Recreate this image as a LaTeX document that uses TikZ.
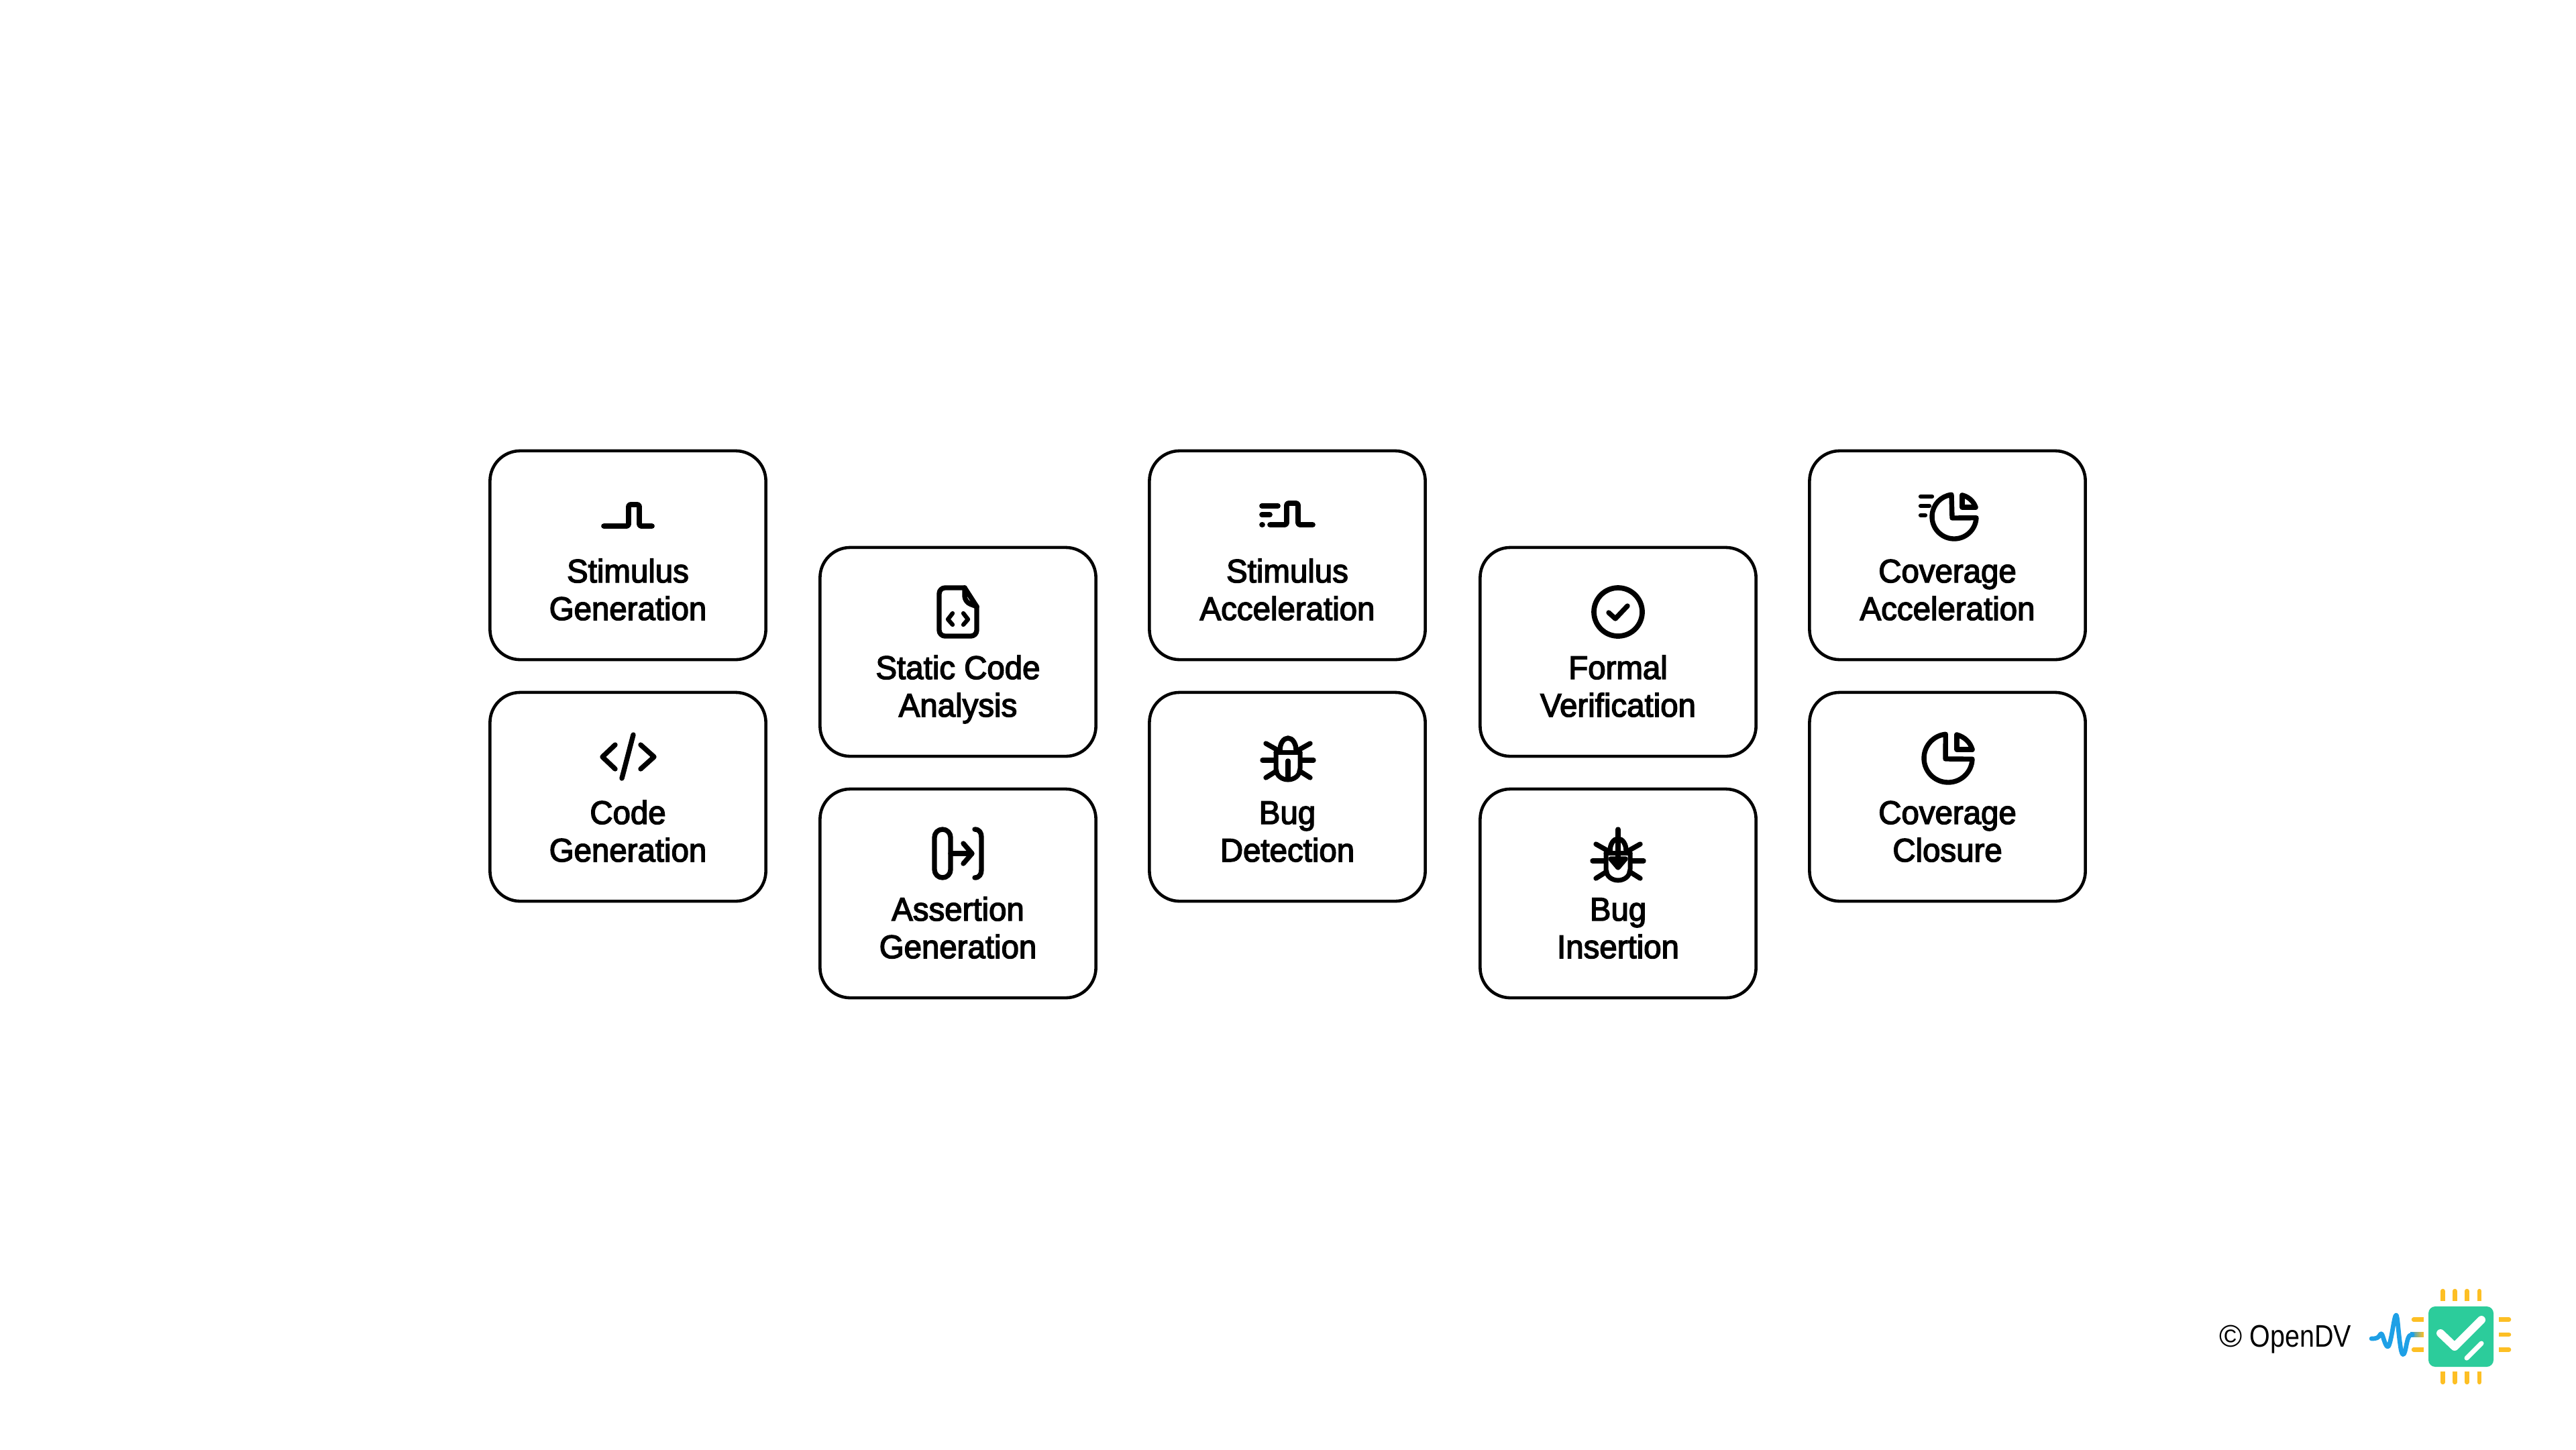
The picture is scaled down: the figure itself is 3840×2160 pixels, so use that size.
\documentclass[tikz,border=0pt]{standalone}
\usepackage{fontspec}
\setmainfont[FakeBold=3,FakeStretch=0.97]{Liberation Sans}
\newfontfamily\logofont[FakeStretch=0.85]{Liberation Sans}
\newfontfamily\logosym{Liberation Sans}
\definecolor{chipgreen}{HTML}{2CCC9B}
\definecolor{pinyellow}{HTML}{FDBF24}
\definecolor{waveblue}{HTML}{1EA0E6}
\tikzset{
  cardbox/.style={draw=black,fill=white,line width=1.3pt,rounded corners=0.45cm,
    minimum width=4.11cm,minimum height=3.11cm,inner sep=0pt,outer sep=0pt},
  cardtext/.style={anchor=base,align=center,inner sep=0pt,outer sep=0pt,text=black,
    font=\fontsize{13.9pt}{15.93pt}\selectfont},
  glyph/.style={draw=black,line width=2.1pt,line cap=round,line join=round},
  thinglyph/.style={glyph,line width=1.8pt},
  pinround/.style={draw=pinyellow,line width=1.85pt,line cap=round},
  pinflat/.style={draw=pinyellow,line width=1.85pt,line cap=butt},
}
\newcommand{\card}[4]{%
  \node[cardbox] (#1) at (#2,#3+155.5) {};
  \node[cardtext] (#1t) at (#2,#3+252) {#4};
}
\newcommand{\bug}[2]{% centre x, top y of the bug
  \begin{scope}[shift={(#1,#2)}]
    \draw[glyph] (-12,21) arc[start angle=180,end angle=360,x radius=12,y radius=18] ;
    \draw[glyph,line width=2pt] (-18,24) -- (18,24);
    \draw[glyph,line width=2pt] (-18,24) -- (-18,48) .. controls (-18,60) and (-8,65) .. (0,65)
       .. controls (8,65) and (18,60) .. (18,48) -- (18,24);
    \draw[glyph] (-38,36) -- (-20,36) (20,36) -- (38,36);
    \draw[glyph] (-33,11) -- (-17,20) (33,11) -- (17,20);
    \draw[glyph] (-33,62) -- (-17,52) (33,62) -- (17,52);
  \end{scope}
}
\begin{document}
\begin{tikzpicture}[x=0.01cm,y=-0.01cm]
\useasboundingbox[fill=white] (0,0) rectangle (3840,2160);

\card{c1}{936}{672}{Stimulus\\Generation}
\card{c2}{936}{1032}{Code\\Generation}
\card{c3}{1428}{816}{Static Code\\Analysis}
\card{c4}{1428}{1176}{Assertion\\Generation}
\card{c5}{1919}{672}{Stimulus\\Acceleration}
\card{c6}{1919}{1032}{Bug\\Detection}
\card{c7}{2412}{816}{Formal\\Verification}
\card{c8}{2412}{1176}{Bug\\Insertion}
\card{c9}{2903}{672}{Coverage\\Acceleration}
\card{c10}{2903}{1032}{Coverage\\Closure}

% pulse
\draw[glyph,rounded corners=0.8pt,line width=2.2pt] (900,784) -- (937,784) -- (937,752) -- (953,752) -- (953,784) -- (972,784);
% code
\draw[glyph] (917,1110) -- (898,1128) -- (917,1146);
\draw[glyph] (955,1110) -- (975,1128) -- (955,1146);
\draw[glyph] (944,1095) -- (927,1160);
% file
\draw[glyph,rounded corners=2.5pt] (1438,876) -- (1400,876) -- (1400,948) -- (1456,948) -- (1456,904);
\draw[glyph] (1438,876) -- (1456,904);
\draw[glyph,rounded corners=2.5pt] (1438,876) -- (1438,897) -- (1456,904);
\draw[thinglyph] (1420,914) -- (1413,923) -- (1420,931);
\draw[thinglyph] (1436,914) -- (1443,923) -- (1436,931);
% assertion
\draw[glyph] (1393,1248) arc[start angle=180,end angle=360,radius=12] -- (1417,1296) arc[start angle=0,end angle=180,radius=12] -- cycle;
\draw[glyph] (1417,1272) -- (1447,1272);
\draw[glyph] (1436,1257) -- (1449,1272) -- (1436,1287);
\draw[glyph] (1453,1236) .. controls (1460,1236) and (1463,1241) .. (1463,1248) -- (1463,1296) .. controls (1463,1303) and (1460,1308) .. (1453,1308);
% stimulus acceleration
\draw[glyph,rounded corners=0.8pt,line width=2.2pt] (1893,782) -- (1918,782) -- (1918,750) -- (1935,750) -- (1935,782) -- (1957,782);
\draw[glyph,line width=2.2pt] (1881,754) -- (1905,754) (1881,767) -- (1893,767) (1881,782) -- (1882,782);
% bugs
\bug{1920}{1097}
\draw[glyph] (1920,1134) -- (1920,1160);
\bug{2412}{1247}
\draw[glyph] (2412,1236) -- (2412,1290);
\draw[glyph,fill=black] (2401,1280) -- (2412,1293) -- (2423,1280) -- cycle;
% formal verification
\draw[glyph,line width=2.2pt] (2412,912) circle[radius=36];
\draw[glyph] (2398,913) -- (2408,922) -- (2426,903);
% coverage acceleration
\draw[glyph] (2913,770) ++(3:33) arc[start angle=3,end angle=263,radius=33] -- (2910,772) -- cycle;
\draw[glyph] (2925,738) -- (2925,756) -- (2945,756);
\draw[glyph] (2945,756) .. controls (2942,747) and (2934,740) .. (2925,738);
\draw[thinglyph] (2863,740) -- (2880,740) (2863,754) -- (2876,754) (2863,768) -- (2870,768);
% coverage closure
\draw[glyph] (2904,1130) ++(2:36) arc[start angle=2,end angle=264,radius=36] -- (2900,1131) -- cycle;
\draw[glyph] (2917,1095) -- (2917,1117) -- (2940,1117);
\draw[glyph] (2940,1117) .. controls (2937,1106) and (2928,1098) .. (2917,1095);

% logo
\node[anchor=base west,inner sep=0pt,text=black,font=\logofont\fontsize{13.2pt}{15pt}\selectfont] (logotext) at (3308,2007) {{\logosym ©}\hspace{3pt}OpenDV};
\fill[chipgreen,rounded corners=2.9pt] (3620,1947) rectangle (3717,2037);
\draw[white,line width=3.4pt,line cap=round,line join=round] (3638,1987) -- (3659,2007) -- (3699,1967);
\draw[white,line width=2pt,line cap=round] (3677,2024) -- (3699,2002);
\foreach \px in {3641.3,3659.3,3677.3,3696}{
  \draw[pinround] (\px,1924) -- (\px,1932);
  \draw[pinflat] (\px,1930) -- (\px,1939.3);
  \draw[pinround] (\px,2052) -- (\px,2060);
  \draw[pinflat] (\px,2044.3) -- (\px,2054);
}
\foreach \py in {1966.7,1989,2011.3}{
  \draw[pinround] (3732,\py) -- (3740,\py);
  \draw[pinflat] (3725,\py) -- (3734,\py);
}
\draw[pinround] (3598,1966.7) -- (3605,1966.7);
\draw[pinflat] (3603,1966.7) -- (3612.7,1966.7);
\draw[pinround] (3598,2011.3) -- (3605,2011.3);
\draw[pinflat] (3603,2011.3) -- (3612.7,2011.3);
\shade[left color=waveblue,right color=pinyellow] (3593,1985.7) rectangle (3612.7,1992.3);
\draw[waveblue,line width=1.9pt,line cap=round,line join=round]
  (3535,1995) .. controls (3543,1995) and (3545,1994) .. (3548,1989)
  .. controls (3551,1984) and (3552,1994) .. (3556,2003)
  .. controls (3560,2012) and (3562,2005) .. (3565,1990)
  .. controls (3568,1974) and (3570,1959) .. (3572,1960)
  .. controls (3574,1961) and (3575,1985) .. (3578,2005)
  .. controls (3580,2020) and (3583,2024) .. (3586,2010)
  .. controls (3589,1995) and (3590,1989) .. (3596,1989);
\end{tikzpicture}
\end{document}
